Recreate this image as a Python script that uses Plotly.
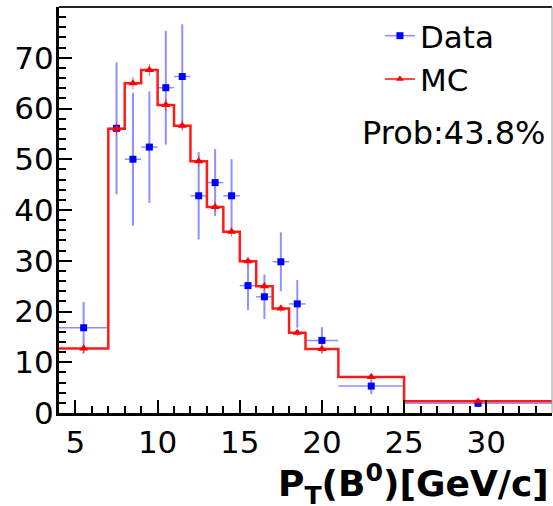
import plotly.graph_objects as go

# ---- data ----
edges = [4, 7, 8, 9, 10, 11, 12, 13, 14, 15, 16, 17, 18, 19, 21, 25, 34]
mc_vals = [12.7, 56.0, 65.0, 67.6, 60.7, 56.6, 49.6, 40.6, 35.7, 29.9, 25.0, 20.6, 15.8, 12.6, 7.1, 2.3]
mc_errs = [0.9, 1.3, 1.2, 1.2, 1.2, 1.1, 1.0, 1.0, 0.9, 0.8, 0.8, 0.7, 0.6, 0.6, 0.4, 0.2]
data_vals = [16.8, 56.1, 50.0, 52.4, 64.1, 66.3, 42.8, 45.4, 42.8, 25.1, 22.9, 29.8, 21.5, 14.3, 5.3, 1.9]
data_errs = [5.1, 13.0, 13.1, 11.0, 11.2, 10.3, 8.6, 6.6, 7.2, 4.8, 4.4, 5.8, 4.7, 2.6, 1.6, 0.6]
x_ticks = [5, 10, 15, 20, 25, 30]
y_ticks = [0, 10, 20, 30, 40, 50, 60, 70]

centers = [(a + b) / 2 for a, b in zip(edges[:-1], edges[1:])]
halfw = [(b - a) / 2 for a, b in zip(edges[:-1], edges[1:])]

FONT = "DejaVu Sans"
fig = go.Figure()

# Data points with error bars
fig.add_trace(go.Scatter(
    x=centers, y=data_vals, mode="markers", showlegend=False,
    marker=dict(symbol="square", size=7, color="#0000ff"),
    error_y=dict(type="data", array=data_errs, color="rgba(70,70,255,0.6)", thickness=2, width=0),
    error_x=dict(type="data", array=halfw, color="rgba(70,70,255,0.6)", thickness=1.5, width=0),
))

# MC step histogram
fig.add_trace(go.Scatter(
    x=edges, y=mc_vals + [mc_vals[-1]], mode="lines", line_shape="hv", showlegend=False,
    line=dict(color="#ff1a1a", width=2.5),
))
# MC markers
fig.add_trace(go.Scatter(
    x=centers, y=mc_vals, mode="markers", showlegend=False,
    marker=dict(symbol="triangle-up", size=8, color="#ff0000"),
    error_y=dict(type="data", array=mc_errs, color="rgba(255,0,0,0.6)", thickness=1, width=0),
))

# legend entries
fig.add_trace(go.Scatter(
    x=[None], y=[None], mode="lines+markers", name="Data",
    line=dict(color="rgba(90,90,255,0.7)", width=1.5),
    marker=dict(symbol="square", size=7, color="#0000ff"),
))
fig.add_trace(go.Scatter(
    x=[None], y=[None], mode="lines+markers", name="MC",
    line=dict(color="rgba(255,40,40,0.85)", width=2),
    marker=dict(symbol="triangle-up", size=7, color="#ff0000"),
))

fig.update_layout(
    width=553, height=506,
    margin=dict(l=59, r=1, t=7, b=93),
    paper_bgcolor="white", plot_bgcolor="white",
    font=dict(family=FONT, color="black", size=31),
    legend=dict(x=0.651, xanchor="left", y=0.995, yanchor="top",
                bgcolor="rgba(0,0,0,0)", font=dict(family=FONT, size=31),
                itemwidth=30, tracegroupgap=0),
    xaxis=dict(range=[4, 34], tickvals=x_ticks, ticktext=[str(v) for v in x_ticks],
               ticks="inside", ticklen=13, tickwidth=2, tickcolor="black",
               minor=dict(dtick=1, ticks="inside", ticklen=7, tickwidth=1.5, tickcolor="black"),
               showline=True, linecolor="black", linewidth=3,
               showgrid=False, zeroline=False,
               tickfont=dict(family=FONT, size=31)),
    yaxis=dict(range=[0, 80], tickvals=y_ticks, ticktext=[str(v) for v in y_ticks],
               ticks="inside", ticklen=13, tickwidth=2, tickcolor="black",
               minor=dict(dtick=2, ticks="inside", ticklen=7, tickwidth=1.5, tickcolor="black"),
               showline=True, linecolor="black", linewidth=3,
               showgrid=False, zeroline=False, ticklabelstandoff=-4,
               tickfont=dict(family=FONT, size=31)),
    shapes=[
        dict(type="line", xref="paper", yref="paper", x0=0, x1=1, y0=1, y1=1,
             line=dict(color="#222222", width=2)),
        dict(type="line", xref="paper", yref="paper", x0=1, x1=1, y0=0, y1=1,
             line=dict(color="#999999", width=1)),
    ],
    annotations=[
        dict(text="Prob:43.8%", xref="paper", yref="paper", x=0.992, y=0.69,
             xanchor="right", yanchor="middle", showarrow=False,
             font=dict(family=FONT, size=32, color="black")),
        dict(text="<b>P<sub>T</sub>(B<sup>0</sup>)[GeV/c]</b>", xref="paper", yref="paper",
             x=0.998, y=-0.176, xanchor="right", yanchor="middle", showarrow=False,
             font=dict(family=FONT, size=36, color="black")),
    ],
)

fig.write_html("out.html")
